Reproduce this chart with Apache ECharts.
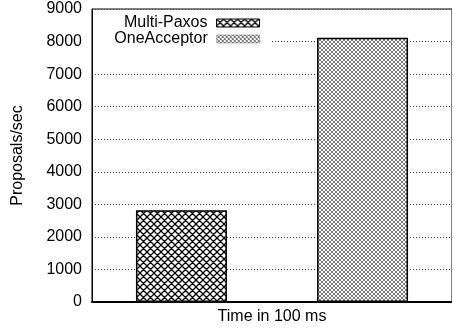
<!DOCTYPE html>
<html>
<head>
<meta charset="utf-8">
<script src="https://cdn.jsdelivr.net/npm/echarts@6/dist/echarts.min.js"></script>
<style>
  html, body { margin: 0; padding: 0; background: #fff; }
  #chart { width: 452px; height: 331px; }
</style>
</head>
<body>
<div id="chart"></div>
<script>
// data
const categories = ['']
const seriesNames = ['Multi-Paxos', 'OneAcceptor']
const multiPaxos = [2820]
const oneAcceptor = [8120]
const yTicks = [0, 1000, 2000, 3000, 4000, 5000, 6000, 7000, 8000, 9000]

// gnuplot-like crosshatch fill
function hatch(step, color, width) {
  const c = document.createElement('canvas')
  c.width = step
  c.height = step
  const ctx = c.getContext('2d')
  ctx.fillStyle = '#fff'
  ctx.fillRect(0, 0, step, step)
  ctx.strokeStyle = color
  ctx.lineWidth = width
  ctx.beginPath()
  for (let k = -1; k <= 1; k++) {
    ctx.moveTo(k * step - 1, -1)
    ctx.lineTo(k * step + step + 1, step + 1)
    ctx.moveTo(k * step - 1, step + 1)
    ctx.lineTo(k * step + step + 1, -1)
  }
  ctx.stroke()
  return { image: c, repeat: 'repeat' }
}

const fillA = hatch(7, '#000', 1.3)
const fillB = hatch(4, '#555', 0.8)

const chart = echarts.init(document.getElementById('chart'))
const font = 'Liberation Sans, Arial, sans-serif'

const option = {
  animation: false,
  grid: {
    left: 92,
    right: -2,
    top: 9,
    bottom: 29,
    show: true,
    borderColor: '#000',
    borderWidth: 1
  },
  legend: [
    {
      data: [{ name: seriesNames[0], itemStyle: { color: fillA, borderColor: '#000', borderWidth: 1 } }],
      right: 190,
      top: 13,
      align: 'right',
      icon: 'rect',
      itemWidth: 43,
      itemHeight: 8,
      padding: [2, 2, 2, 2],
      textStyle: { fontFamily: font, fontSize: 16, color: '#000', padding: [0, 4, 0, 0] }
    },
    {
      data: [{ name: seriesNames[1], itemStyle: { color: fillB, borderColor: '#666', borderWidth: 0.5 } }],
      right: 182,
      top: 29,
      align: 'right',
      icon: 'rect',
      itemWidth: 43,
      itemHeight: 8,
      backgroundColor: '#fff',
      padding: [2, 10, 4, 20],
      textStyle: { fontFamily: font, fontSize: 16, color: '#000', padding: [0, 4, 0, 0] }
    }
  ],
  xAxis: {
    type: 'category',
    data: categories,
    name: 'Time in 100 ms',
    nameLocation: 'middle',
    nameGap: 7,
    nameTextStyle: { fontFamily: font, fontSize: 16, color: '#000' },
    axisLine: { lineStyle: { color: '#000', width: 2 } },
    axisTick: { show: false },
    axisLabel: { show: false }
  },
  yAxis: {
    type: 'value',
    min: yTicks[0],
    max: yTicks[yTicks.length - 1],
    interval: 1000,
    name: 'Proposals/sec',
    nameLocation: 'middle',
    nameGap: 66,
    nameTextStyle: { fontFamily: font, fontSize: 16, color: '#000' },
    axisLine: { show: true, lineStyle: { color: '#000', width: 1 } },
    axisTick: { show: false },
    axisLabel: { fontFamily: font, fontSize: 16, color: '#000', margin: 10, formatter: v => String(v) },
    splitLine: { lineStyle: { color: '#444', width: 1, type: [1, 2] } }
  },
  series: [
    {
      name: seriesNames[0],
      type: 'bar',
      data: multiPaxos,
      barWidth: 91,
      barGap: '99%',
      itemStyle: { color: fillA, borderColor: '#000', borderWidth: 1.5 }
    },
    {
      name: seriesNames[1],
      type: 'bar',
      data: oneAcceptor,
      barWidth: 91,
      itemStyle: { color: fillB, borderColor: '#000', borderWidth: 1.5 }
    }
  ]
}

chart.setOption(option)
</script>
</body>
</html>
